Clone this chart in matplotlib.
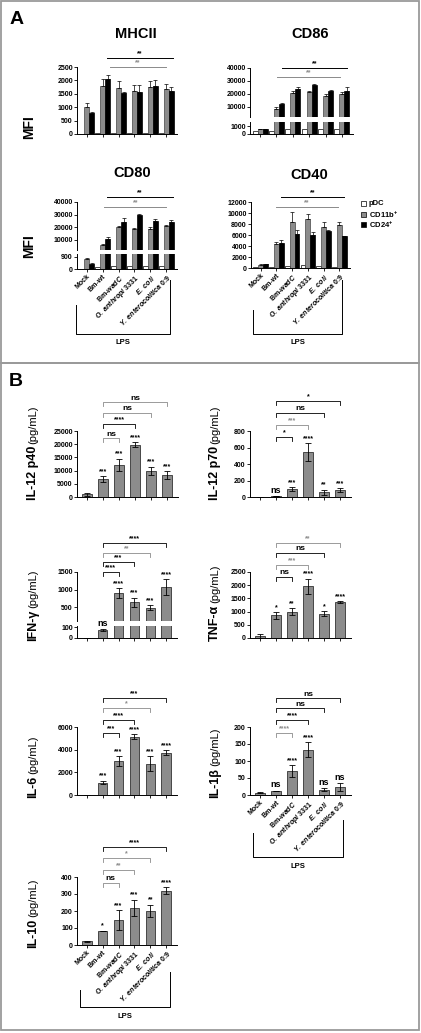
import matplotlib
matplotlib.use("Agg")
import matplotlib.pyplot as plt
import matplotlib.transforms as mtransforms
from matplotlib.patches import Rectangle
import numpy as np

plt.rcParams["font.family"] = ["Liberation Sans", "DejaVu Sans"]
plt.rcParams["font.weight"] = "bold"
plt.rcParams["mathtext.fontset"] = "custom"
plt.rcParams["mathtext.rm"] = "Liberation Sans:bold"
plt.rcParams["mathtext.it"] = "Liberation Sans:italic:bold"
plt.rcParams["mathtext.bf"] = "Liberation Sans:bold"

W, H = 421, 1033

groups = ["Mock", "Bm-wt", r"Bm-$\it{wadC}$", r"$\it{O.\ anthropi}$ 3331",
          r"$\it{E.\ coli}$", r"$\it{Y.\ enterocolitica}$ 0:9"]
cell_types = ["pDC", r"CD11b$^{+}$", r"CD24$^{+}$"]

# ---- panel A: MFI per DC subset ----
mhcii_pdc = [10, 20, 20, 30, 20, 20]
mhcii_cd11b = [1000, 1800, 1720, 1600, 1750, 1680]
mhcii_cd11b_err = [150, 250, 250, 230, 220, 190]
mhcii_cd24 = [800, 2050, 1530, 1580, 1800, 1600]
mhcii_cd24_err = [30, 150, 50, 240, 230, 150]

cd86_pdc = [400, 400, 600, 600, 600, 600]
cd86_cd11b = [600, 8500, 20500, 21500, 18500, 20000]
cd86_cd11b_err = [50, 1000, 1500, 500, 1000, 1500]
cd86_cd24 = [600, 12000, 24000, 27000, 22000, 22000]
cd86_cd24_err = [50, 500, 1500, 500, 1000, 3000]

cd80_pdc = [30, 120, 240, 250, 250, 250]
cd80_cd11b = [730, 6000, 20000, 19000, 18500, 21000]
cd80_cd11b_err = [50, 500, 1000, 800, 1500, 1000]
cd80_cd24 = [340, 11000, 24000, 29500, 25000, 24000]
cd80_cd24_err = [80, 1000, 3000, 800, 1500, 1500]

cd40_pdc = [200, 200, 300, 500, 300, 250]
cd40_cd11b = [600, 4400, 8400, 9000, 7400, 7800]
cd40_cd11b_err = [50, 300, 1800, 800, 1000, 500]
cd40_cd24 = [700, 4600, 6200, 6000, 6700, 5800]
cd40_cd24_err = [50, 500, 800, 600, 300, 100]

a_sig = ["**", "**"]

# ---- panel B: cytokines (pg/mL) ----
il12p40 = [1000, 6800, 12200, 19800, 10000, 8300]
il12p40_err = [500, 1200, 2300, 900, 1500, 1400]
il12p40_sig = ["", "***", "***", "****", "***", "***"]
il12p40_cmp = ["ns", "****", "ns", "ns"]

il12p70 = [0, 10, 95, 545, 60, 85]
il12p70_err = [0, 3, 25, 105, 30, 20]
il12p70_sig = ["", "ns", "***", "****", "**", "***"]
il12p70_cmp = ["*", "***", "ns", "*"]

ifng = [0, 70, 900, 640, 480, 1070]
ifng_err = [0, 10, 130, 130, 70, 230]
ifng_sig = ["", "ns", "****", "***", "***", "****"]
ifng_cmp = ["****", "***", "**", "****"]

tnfa = [60, 860, 1000, 1960, 920, 1360]
tnfa_err = [100, 130, 130, 290, 100, 25]
tnfa_sig = ["", "*", "**", "****", "*", "****"]
tnfa_cmp = ["ns", "***", "ns", "**"]

il6 = [0, 1100, 3000, 5150, 2750, 3750]
il6_err = [0, 150, 400, 200, 650, 200]
il6_sig = ["", "***", "***", "****", "***", "****"]
il6_cmp = ["***", "****", "*", "***"]

il1b = [7, 12, 70, 133, 16, 24]
il1b_err = [2, 1, 17, 22, 5, 11]
il1b_sig = ["", "ns", "****", "****", "ns", "ns"]
il1b_cmp = ["****", "****", "ns", "ns"]

il10 = [22, 83, 148, 220, 202, 320]
il10_err = [3, 2, 58, 47, 35, 20]
il10_sig = ["", "*", "***", "***", "**", "****"]
il10_cmp = ["ns", "**", "*", "****"]

GRAY = "#8c8c8c"
LGRAY = "#8a8a8a"
XLIM = (-0.62, 5.68)

fig = plt.figure(figsize=(W / 100, H / 100), dpi=100)
ov = fig.add_axes([0, 0, 1, 1], zorder=5)
ov.set_xlim(0, W)
ov.set_ylim(H, 0)
ov.axis("off")


def px_axes(l, t, r, b):
    return fig.add_axes([l / W, 1 - b / H, (r - l) / W, (b - t) / H])


def style(ax, ylim, ticks, part="full"):
    ax.set_xlim(XLIM)
    ax.set_ylim(ylim)
    ax.patch.set_visible(False)
    ax.spines["top"].set_visible(False)
    ax.spines["right"].set_visible(False)
    for s in ["left", "bottom"]:
        ax.spines[s].set_linewidth(0.7)
    ax.tick_params(length=2, width=0.6, labelsize=5, pad=1)
    ax.set_yticks(ticks)
    ax.set_yticklabels([str(t) for t in ticks])
    ax.set_xticks(range(6))
    ax.set_xticklabels([])
    if part == "upper":
        ax.spines["bottom"].set_visible(False)
        ax.tick_params(axis="x", length=0)


def group_labels(ax):
    ax.set_xticklabels(groups)
    plt.setp(ax.get_xticklabels(), rotation=45, ha="right",
             rotation_mode="anchor", fontsize=5)


def draw_a(axs, pdc, cd11b, cd11b_err, cd24, cd24_err):
    x = np.arange(6)
    w = 0.31
    z = np.zeros(6)
    for ax in axs:
        ax.bar(x - w, pdc, w, color="white", edgecolor="black", linewidth=0.5)
        ax.bar(x, cd11b, w, color=GRAY, edgecolor="#444444", linewidth=0.5)
        ax.bar(x + w, cd24, w, color="black", edgecolor="black", linewidth=0.5)
        ax.errorbar(x, cd11b, yerr=[z, cd11b_err], fmt="none", ecolor="black",
                    elinewidth=0.5, capsize=1.2, capthick=0.5)
        ax.errorbar(x + w, cd24, yerr=[z, cd24_err], fmt="none", ecolor="black",
                    elinewidth=0.5, capsize=1.2, capthick=0.5)


def sig_lines(ax, lines):
    tr = mtransforms.blended_transform_factory(ax.transData, ov.transData)
    for (x0, x1, y, color), lab in zip(lines, a_sig):
        ov.plot([x0, x1], [y, y], color=color, lw=0.7, transform=tr)
        ov.text((x0 + x1) / 2, y - 0.5, lab, color=color, fontsize=5,
                ha="center", va="bottom", transform=tr)


def draw_b(axs, mean, err, sig):
    x = np.arange(6)
    mean = np.array(mean, float)
    err = np.array(err, float)
    for ax in axs:
        ax.bar(x, mean, 0.6, color=GRAY, edgecolor="#333333", linewidth=0.6, zorder=2)
        ax.errorbar(x, mean, yerr=err, fmt="none", ecolor="black",
                    elinewidth=0.6, capsize=2, capthick=0.6, zorder=3)
    for i, s in enumerate(sig):
        if not s:
            continue
        top = mean[i] + err[i]
        ax = axs[0]
        for a in axs:
            lo, hi = a.get_ylim()
            if lo <= top <= hi:
                ax = a
        ax.annotate(s, (i, top), xytext=(0, 0.8), textcoords="offset points",
                    ha="center", va="bottom", fontsize=6.5 if s == "ns" else 5)


def brackets(ax, labels, levels, colors):
    tr = mtransforms.blended_transform_factory(ax.transData, ov.transData)
    for end, lab, y, c in zip([2, 3, 4, 5], labels, levels, colors):
        ov.plot([1, 1, end, end], [y + 4, y, y, y + 4], color=c, lw=0.6, transform=tr)
        ov.text((1 + end) / 2, y - 0.5, lab, color="black" if lab == "ns" else c,
                fontsize=6 if lab == "ns" else 5, ha="center", va="bottom", transform=tr)


def lps_box(xl, xr, ytl, ytr, yb):
    ov.plot([xl, xl, xr, xr], [ytl, yb, yb, ytr], color="black", lw=0.7)
    ov.text((xl + xr) / 2, yb + 9, "LPS", fontsize=5.5, ha="center", va="center")


# ---------------- panel A ----------------
ax_mhc = px_axes(77, 67, 177, 134)
style(ax_mhc, (0, 2500), [0, 500, 1000, 1500, 2000, 2500])
draw_a([ax_mhc], mhcii_pdc, mhcii_cd11b, mhcii_cd11b_err, mhcii_cd24, mhcii_cd24_err)
sig_lines(ax_mhc, [(1.3, 5.4, 58, "black"), (1.45, 5.0, 67, LGRAY)])

ax86_hi = px_axes(250, 68, 353, 117)
ax86_lo = px_axes(250, 122, 353, 134)
style(ax86_hi, (2000, 40000), [10000, 20000, 30000, 40000], "upper")
style(ax86_lo, (0, 1500), [0, 1000])
draw_a([ax86_hi, ax86_lo], cd86_pdc, cd86_cd11b, cd86_cd11b_err, cd86_cd24, cd86_cd24_err)
sig_lines(ax86_hi, [(1.34, 5.3, 68, "black"), (1.04, 4.9, 77, LGRAY)])

ax80_hi = px_axes(77, 202, 177, 250)
ax80_lo = px_axes(77, 254, 177, 269)
style(ax80_hi, (2000, 40000), [10000, 20000, 30000, 40000], "upper")
style(ax80_lo, (0, 1100), [0, 900])
draw_a([ax80_hi, ax80_lo], cd80_pdc, cd80_cd11b, cd80_cd11b_err, cd80_cd24, cd80_cd24_err)
sig_lines(ax80_hi, [(1.3, 5.4, 197, "black"), (1.1, 5.0, 207, LGRAY)])
group_labels(ax80_lo)

ax40 = px_axes(251, 202, 350, 268)
style(ax40, (0, 12000), [0, 2000, 4000, 6000, 8000, 10000, 12000])
draw_a([ax40], cd40_pdc, cd40_cd11b, cd40_cd11b_err, cd40_cd24, cd40_cd24_err)
sig_lines(ax40, [(1.3, 5.3, 197, "black"), (1.0, 4.9, 207, LGRAY)])
group_labels(ax40)

for txt, x, y in [("MHCII", 136, 34), ("CD86", 310, 34), ("CD80", 132, 173), ("CD40", 309, 175)]:
    ov.text(x, y, txt, fontsize=10.5, ha="center", va="center")
for y in [127, 246]:
    ov.text(29, y, "MFI", fontsize=10, rotation=90, ha="center", va="center")

for (lab, fc), y in zip(zip(cell_types, ["white", GRAY, "black"]), [203.5, 214.5, 224.5]):
    ov.add_patch(Rectangle((361, y - 2.5), 5, 5, facecolor=fc, edgecolor="black", lw=0.5))
    ov.text(369, y, lab, fontsize=5.5, ha="left", va="center")

lps_box(76, 170, 305, 280, 334)
lps_box(253, 342, 310, 280, 334)

# ---------------- panel B ----------------
ax_p40 = px_axes(77, 431, 178, 497)
style(ax_p40, (0, 25000), [0, 5000, 10000, 15000, 20000, 25000])
draw_b([ax_p40], il12p40, il12p40_err, il12p40_sig)
brackets(ax_p40, il12p40_cmp, [438, 424, 413, 402], [LGRAY, "black", LGRAY, LGRAY])

ax_p70 = px_axes(250, 431, 351, 497)
style(ax_p70, (0, 800), [0, 200, 400, 600, 800])
draw_b([ax_p70], il12p70, il12p70_err, il12p70_sig)
brackets(ax_p70, il12p70_cmp, [437, 425, 413, 401], ["black", LGRAY, "black", "black"])

ax_ifn_hi = px_axes(77, 572, 177, 621)
ax_ifn_lo = px_axes(77, 626, 177, 638)
style(ax_ifn_hi, (100, 1500), [500, 1000, 1500], "upper")
style(ax_ifn_lo, (0, 110), [0, 100])
draw_b([ax_ifn_hi, ax_ifn_lo], ifng, ifng_err, ifng_sig)
brackets(ax_ifn_hi, ifng_cmp, [572, 562, 553, 543], ["black", "black", LGRAY, "black"])

ax_tnf = px_axes(250, 572, 351, 638)
style(ax_tnf, (0, 2500), [0, 500, 1000, 1500, 2000, 2500])
draw_b([ax_tnf], tnfa, tnfa_err, tnfa_sig)
brackets(ax_tnf, tnfa_cmp, [577, 565, 553, 543], ["black", LGRAY, "black", LGRAY])

ax_il6 = px_axes(77, 727, 177, 795)
style(ax_il6, (0, 6000), [0, 2000, 4000, 6000])
draw_b([ax_il6], il6, il6_err, il6_sig)
brackets(ax_il6, il6_cmp, [733, 720, 708, 698], ["black", "black", LGRAY, "black"])

ax_il1b = px_axes(250, 727, 351, 795)
style(ax_il1b, (0, 200), [0, 50, 100, 150, 200])
draw_b([ax_il1b], il1b, il1b_err, il1b_sig)
brackets(ax_il1b, il1b_cmp, [733, 720, 708, 698], [LGRAY, "black", "black", "black"])
group_labels(ax_il1b)

ax_il10 = px_axes(77, 877, 177, 945)
style(ax_il10, (0, 400), [0, 100, 200, 300, 400])
draw_b([ax_il10], il10, il10_err, il10_sig)
brackets(ax_il10, il10_cmp, [883, 870, 858, 847], [LGRAY, LGRAY, LGRAY, "black"])
group_labels(ax_il10)

lps_box(253, 343, 833, 820, 857)
lps_box(80, 170, 990, 972, 1007)

renderer = fig.canvas.get_renderer()
for name, x, ybot in [("IL-12 p40", 33, 500), ("IL-12 p70", 215, 500),
                      ("IFN-γ", 33, 641), ("TNF-α", 215, 641),
                      ("IL-6", 33, 798), ("IL-1β", 215, 798),
                      ("IL-10", 33, 948)]:
    t1 = ov.text(x, ybot, name, rotation=90, fontsize=9, ha="center", va="bottom")
    bb = t1.get_window_extent(renderer)
    ov.text(x + 0.5, H - bb.y1 - 2, "(pg/mL)", rotation=90, fontsize=8,
            fontweight="normal", ha="center", va="bottom")

ov.text(17, 20, "A", fontsize=14, ha="center", va="center")
ov.text(16, 382, "B", fontsize=14, ha="center", va="center")
ov.add_patch(Rectangle((1, 1), 418, 362, fill=False, ec="#9a9a9a", lw=1.3))
ov.add_patch(Rectangle((1, 363), 418, 667, fill=False, ec="#9a9a9a", lw=1.3))

fig.savefig("out.png", dpi=100)
